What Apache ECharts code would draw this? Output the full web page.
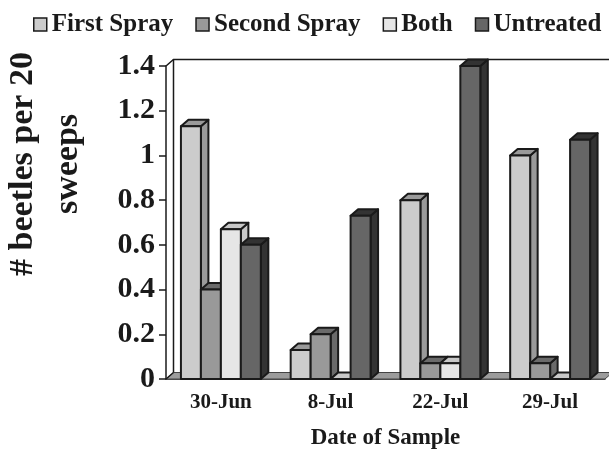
<!DOCTYPE html>
<html>
<head>
<meta charset="utf-8">
<script src="https://cdn.jsdelivr.net/npm/echarts@6/dist/echarts.min.js"></script>
<style>
    html, body { margin: 0; padding: 0; background: #fff; }
    #chart { width: 609px; height: 451px; }
</style>
</head>
<body>
<div id="chart"></div>
<script>
// Chart data
// ------------------------------

var dates = ['30-Jun', '8-Jul', '22-Jul', '29-Jul'];
var seriesNames = ['First Spray', 'Second Spray', 'Both', 'Untreated'];
var firstSpray = [1.13, 0.13, 0.8, 1.0];
var secondSpray = [0.4, 0.2, 0.07, 0.07];
var both = [0.67, 0, 0.07, 0];
var untreated = [0.6, 0.73, 1.4, 1.07];
var yTicks = { min: 0, max: 1.4, interval: 0.2 };

// front / top+side colours of each series
var frontColors = ['#cccccc', '#999999', '#e6e6e6', '#666666'];
var sideColors = ['#9a9a9a', '#6a6a6a', '#c8c8c8', '#333333'];

var FONT = '"Liberation Serif", "Times New Roman", serif';
var TEXT_COLOR = '#1a1a1a';
var DX = 7.5, DY = -6.5;   // 3D depth offset
var BAR_RATIO = 0.182;     // bar width as part of category band

var chartEl = document.getElementById('chart');
var chart = echarts.init(chartEl);

// 3D column for one series
var makeBarRenderer = function(idx) {
    return function(params, api) {
        var cat = api.value(0);
        var val = api.value(1);
        var base = api.coord([cat, 0]);
        var top = api.coord([cat, val]);
        var band = api.size([1, 0])[0];
        var bw = band * BAR_RATIO;
        var x0 = base[0] - 2 * bw + idx * bw;
        var x1 = x0 + bw;
        var yb = base[1];
        var yt = top[1];
        var line = { stroke: '#1a1a1a', lineWidth: 2, lineJoin: 'round' };
        return {
            type: 'group',
            children: [{
                type: 'polygon',
                shape: { points: [[x1, yt], [x1 + DX, yt + DY], [x1 + DX, yb + DY], [x1, yb]] },
                style: Object.assign({ fill: sideColors[idx] }, line)
            }, {
                type: 'polygon',
                shape: { points: [[x0, yt], [x0 + DX, yt + DY], [x1 + DX, yt + DY], [x1, yt]] },
                style: Object.assign({ fill: sideColors[idx] }, line)
            }, {
                type: 'rect',
                shape: { x: x0, y: yt, width: bw, height: yb - yt },
                style: Object.assign({ fill: frontColors[idx] }, line)
            }]
        };
    };
};

// back wall and floor
var renderFrame = function(params, api) {
    var cs = params.coordSys;
    var left = cs.x, right = cs.x + cs.width;
    var top = cs.y, bottom = cs.y + cs.height;
    var line = { stroke: '#1a1a1a', lineWidth: 1.5 };
    return {
        type: 'group',
        children: [{
            type: 'polygon',
            shape: { points: [[left, bottom], [left + DX, bottom + DY], [right + DX, bottom + DY], [right, bottom]] },
            style: { fill: '#9c9c9c', stroke: '#444', lineWidth: 1 }
        }, {
            type: 'polyline',
            shape: { points: [[left, top], [left + DX, top + DY], [right + 20, top + DY]] },
            style: Object.assign({ fill: null }, line)
        }, {
            type: 'line',
            shape: { x1: left + DX, y1: top + DY, x2: left + DX, y2: bottom + DY },
            style: line
        }, {
            type: 'line',
            shape: { x1: left, y1: bottom, x2: left + DX, y2: bottom + DY },
            style: line
        }]
    };
};

var values = [firstSpray, secondSpray, both, untreated];

var series = [{
    type: 'custom',
    name: 'frame',
    silent: true,
    z: 1,
    renderItem: renderFrame,
    data: [[0, 0]]
}];

seriesNames.forEach(function(name, i) {
    series.push({
        type: 'custom',
        name: name,
        z: 2,
        itemStyle: { color: frontColors[i], borderColor: '#1a1a1a', borderWidth: 1.5 },
        renderItem: makeBarRenderer(i),
        data: values[i].map(function(v, j) { return [j, v]; })
    });
});

var option = {
    animation: false,
    textStyle: { fontFamily: FONT, color: TEXT_COLOR },
    legend: {
        data: seriesNames.map(function(n) {
            return { name: n, icon: 'rect', itemStyle: { borderColor: '#1a1a1a', borderWidth: 1.5 } };
        }),
        left: 28,
        top: 7,
        width: 600,
        itemWidth: 13,
        itemHeight: 13,
        itemGap: 22,
        textStyle: { fontFamily: FONT, fontWeight: 'bold', fontSize: 25, color: TEXT_COLOR }
    },
    grid: { left: 166, right: 4, top: 66, bottom: 72, outerBoundsMode: 'none' },
    xAxis: {
        type: 'category',
        data: dates,
        name: 'Date of Sample',
        nameLocation: 'middle',
        nameGap: 48,
        nameTextStyle: { fontFamily: FONT, fontWeight: 'bold', fontSize: 23, color: TEXT_COLOR },
        axisLine: { lineStyle: { color: '#1a1a1a', width: 1.5 } },
        axisTick: { length: 7, lineStyle: { color: '#1a1a1a', width: 1.5 } },
        axisLabel: { margin: 13, fontFamily: FONT, fontWeight: 'bold', fontSize: 21, color: TEXT_COLOR }
    },
    yAxis: {
        type: 'value',
        min: yTicks.min,
        max: yTicks.max,
        interval: yTicks.interval,
        splitLine: { show: false },
        axisLine: { show: true, lineStyle: { color: '#1a1a1a', width: 1.5 } },
        axisTick: { show: true, length: 7, lineStyle: { color: '#1a1a1a', width: 1.5 } },
        axisLabel: { margin: 11, fontFamily: FONT, fontWeight: 'bold', fontSize: 30, color: TEXT_COLOR }
    },
    graphic: [{
        type: 'text',
        x: 46,
        y: 164,
        rotation: Math.PI / 2,
        style: {
            text: '# beetles per 20\nsweeps',
            font: 'bold 34px ' + FONT,
            fill: TEXT_COLOR,
            align: 'center',
            verticalAlign: 'middle',
            lineHeight: 45
        }
    }],
    series: series
};

chart.setOption(option);
</script>
</body>
</html>
